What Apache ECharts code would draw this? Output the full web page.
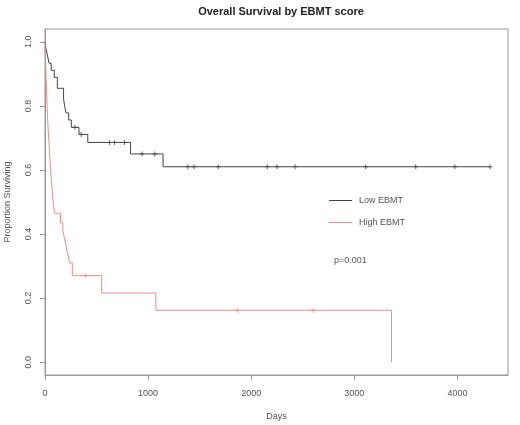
<!DOCTYPE html>
<html>
<head>
<meta charset="utf-8">
<script src="https://cdn.jsdelivr.net/npm/echarts@6/dist/echarts.min.js"></script>
<style>
  html, body { margin: 0; padding: 0; background: #fff; }
</style>
</head>
<body>
<div id="chart" style="width:520px; height:425px"></div>
<script>
// Kaplan-Meier steps
var lowTimes = [0, 10, 25, 40, 60, 90, 120, 180, 190, 205, 230, 255, 330, 415, 830, 1145, 4316];
var lowSurv = [1.0, 0.978, 0.956, 0.933, 0.911, 0.889, 0.855, 0.822, 0.80, 0.778, 0.756, 0.733, 0.711, 0.686, 0.65, 0.61, 0.61];
var lowCensor = [290, 350, 625, 675, 770, 940, 1065, 1385, 1445, 1680, 2155, 2250, 2425, 3110, 3595, 3975, 4316];

var highTimes = [0, 5, 10, 15, 22, 30, 40, 50, 62, 75, 92, 150, 173, 190, 206, 222, 240, 265, 550, 1075, 3360];
var highSurv = [1.0, 0.946, 0.892, 0.838, 0.784, 0.730, 0.676, 0.622, 0.568, 0.514, 0.465, 0.435, 0.41, 0.385, 0.36, 0.335, 0.31, 0.27, 0.216, 0.162, 0.0];
var highCensor = [395, 1865, 2600];

var xTicks = [0, 1000, 2000, 3000, 4000];
var yTicks = [0, 0.2, 0.4, 0.6, 0.8, 1.0];

function steps (times, surv) {
  return times.map(function (t, i) { return [t, surv[i]] })
}
// survival value at time t (step function)
function survAt (times, surv, t) {
  var s = surv[0]
  for (var i = 0; i < times.length; i++) {
    if (times[i] <= t) s = surv[i]
  }
  return s
}
function marks (times, surv, cens) {
  return cens.map(function (t) { return [t, survAt(times, surv, t)] })
}

var lowColor = '#444'
var highColor = '#ef8a8a'
var plus = 'path://M4,0 L6,0 L6,4 L10,4 L10,6 L6,6 L6,10 L4,10 L4,6 L0,6 L0,4 L4,4 Z'

var myChart = echarts.init(document.getElementById('chart'), null, { renderer: 'canvas' })
var option = {
  backgroundColor: '#fff',
  animation: false,
  textStyle: { fontFamily: 'Liberation Sans, Arial, sans-serif' },
  title: {
    text: 'Overall Survival by EBMT score',
    left: 276,
    textAlign: 'center',
    top: 1,
    textStyle: { fontSize: 11, fontWeight: 'bold', color: '#222' }
  },
  grid: {
    left: 45, right: 12, top: 29, bottom: 50,
    containLabel: false,
    outerBoundsMode: 'none',
    show: true, borderColor: '#999', borderWidth: 1
  },
  legend: {
    orient: 'vertical',
    left: 324,
    top: 191,
    itemWidth: 23,
    itemHeight: 1,
    itemGap: 13,
    icon: 'rect',
    textStyle: { fontSize: 9, color: '#555', padding: [0, 0, 0, 2] },
    data: ['Low EBMT', 'High EBMT']
  },
  graphic: [{
    type: 'text',
    left: 334,
    top: 256,
    style: { text: 'p=0.001', fontSize: 9, fill: '#555', fontFamily: 'Liberation Sans, Arial, sans-serif' }
  }],
  xAxis: {
    type: 'value',
    min: 0,
    max: 4490,
    name: 'Days',
    nameLocation: 'middle',
    nameGap: 37,
    nameTextStyle: { fontSize: 9, color: '#555' },
    splitLine: { show: false },
    axisLine: { show: true, onZero: false, lineStyle: { color: '#999' } },
    axisTick: { show: true, length: 5, customValues: xTicks, lineStyle: { color: '#999' } },
    axisLabel: {
      customValues: xTicks, margin: 14, fontSize: 9, color: '#555',
      formatter: function (v) { return String(v) }
    }
  },
  yAxis: {
    type: 'value',
    min: -0.04,
    max: 1.04,
    name: 'Proportion Surviving',
    nameLocation: 'middle',
    nameGap: 33,
    nameTextStyle: { fontSize: 9, color: '#555' },
    splitLine: { show: false },
    axisLine: { show: true, lineStyle: { color: '#999' } },
    axisTick: { show: true, length: 5, customValues: yTicks, lineStyle: { color: '#999' } },
    axisLabel: {
      customValues: yTicks, rotate: 90, margin: 12, fontSize: 9, color: '#555',
      formatter: function (v) { return v.toFixed(1) }
    }
  },
  series: [
    {
      name: 'Low EBMT',
      type: 'line',
      step: 'end',
      data: steps(lowTimes, lowSurv),
      showSymbol: false,
      symbol: 'none',
      color: lowColor,
      lineStyle: { width: 1, color: lowColor }
    },
    {
      name: 'High EBMT',
      type: 'line',
      step: 'end',
      data: steps(highTimes, highSurv),
      showSymbol: false,
      symbol: 'none',
      color: highColor,
      lineStyle: { width: 1, color: highColor }
    },
    {
      type: 'scatter',
      data: marks(lowTimes, lowSurv, lowCensor),
      symbol: plus,
      symbolSize: 5,
      itemStyle: { color: lowColor }
    },
    {
      type: 'scatter',
      data: marks(highTimes, highSurv, highCensor),
      symbol: plus,
      symbolSize: 5,
      itemStyle: { color: highColor }
    }
  ]
}
myChart.setOption(option)
</script>
</body>
</html>
